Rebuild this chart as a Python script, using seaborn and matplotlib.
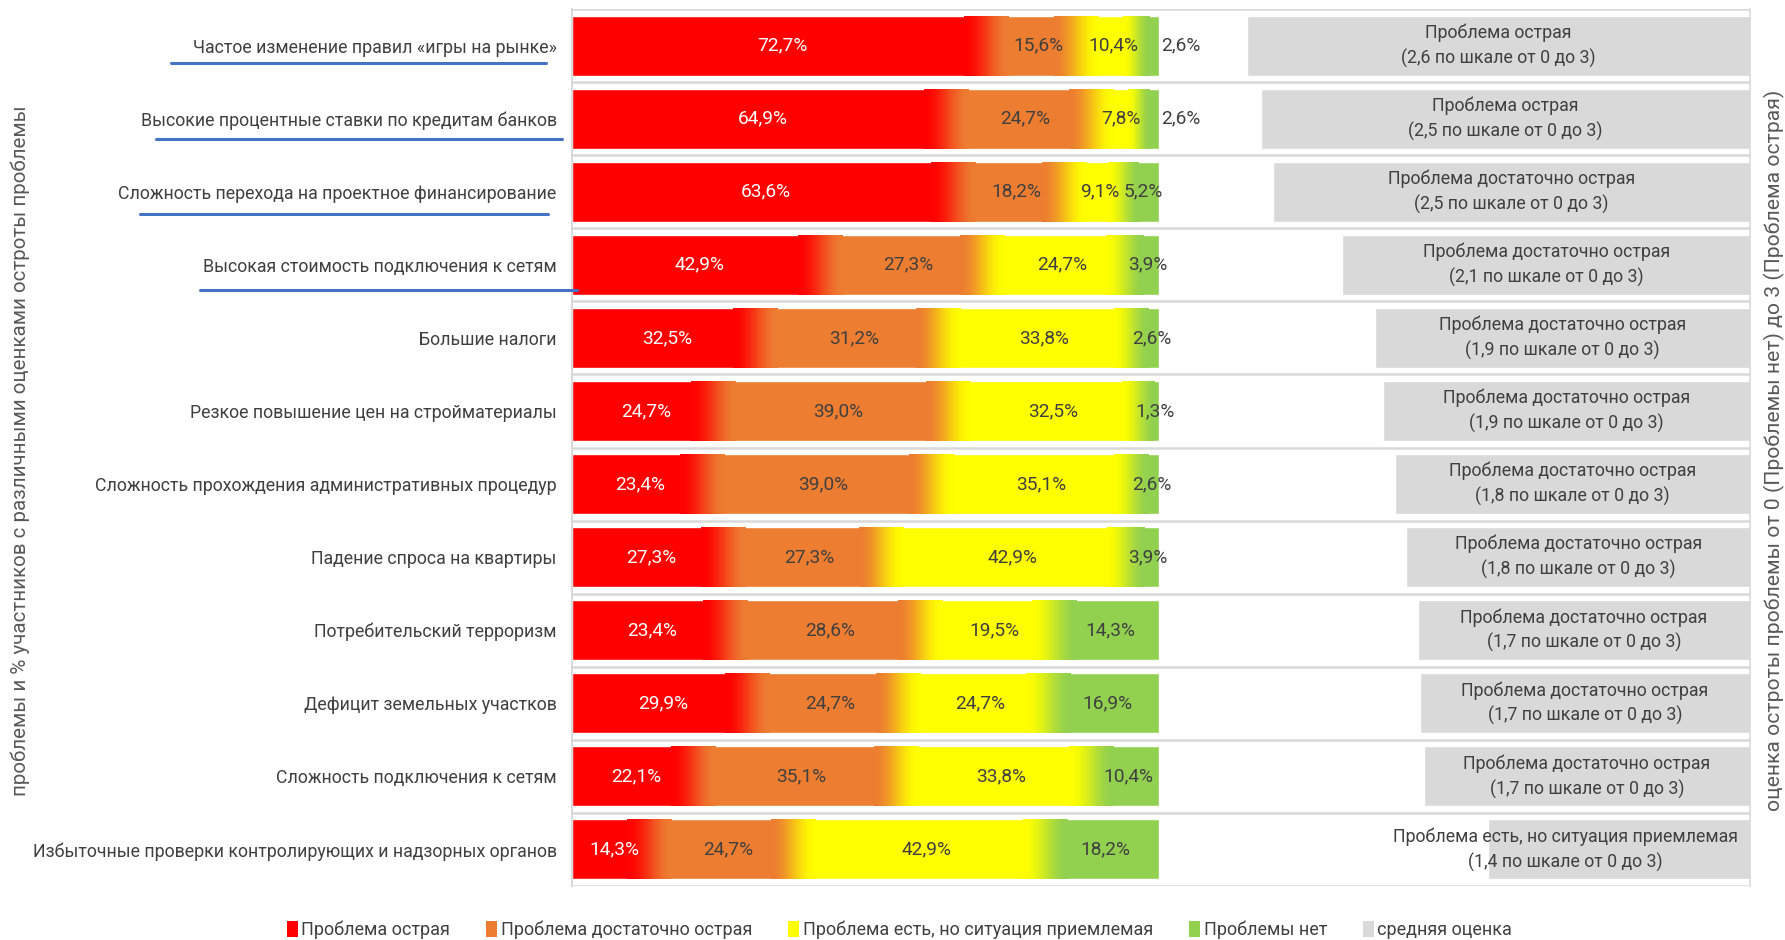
import numpy as np
import pandas as pd
import matplotlib
matplotlib.use("Agg")
import matplotlib.pyplot as plt
import seaborn as sns
from matplotlib.colors import to_rgb
from matplotlib.patches import Patch
from matplotlib.lines import Line2D

# ---------------- data ----------------
categories = [
    "Частое изменение правил «игры на рынке»",
    "Высокие процентные ставки по кредитам банков",
    "Сложность перехода на проектное финансирование",
    "Высокая стоимость подключения к сетям",
    "Большие налоги",
    "Резкое повышение цен на стройматериалы",
    "Сложность прохождения административных процедур",
    "Падение спроса на квартиры",
    "Потребительский терроризм",
    "Дефицит земельных участков",
    "Сложность подключения к сетям",
    "Избыточные проверки контролирующих и надзорных органов",
]
acute = [72.7, 64.9, 63.6, 42.9, 32.5, 24.7, 23.4, 27.3, 23.4, 29.9, 22.1, 14.3]
fairly_acute = [15.6, 24.7, 18.2, 27.3, 31.2, 39.0, 39.0, 27.3, 28.6, 24.7, 35.1, 24.7]
acceptable = [10.4, 7.8, 9.1, 24.7, 33.8, 32.5, 35.1, 42.9, 19.5, 24.7, 33.8, 42.9]
no_problem = [2.6, 2.6, 5.2, 3.9, 2.6, 1.3, 2.6, 3.9, 14.3, 16.9, 10.4, 18.2]

avg_score = [2.59, 2.52, 2.46, 2.10, 1.93, 1.89, 1.83, 1.77, 1.71, 1.70, 1.68, 1.35]
avg_text = ["2,6", "2,5", "2,5", "2,1", "1,9", "1,9", "1,8", "1,8", "1,7", "1,7", "1,7", "1,4"]
avg_verdict = [
    "Проблема острая", "Проблема острая",
    "Проблема достаточно острая", "Проблема достаточно острая",
    "Проблема достаточно острая", "Проблема достаточно острая",
    "Проблема достаточно острая", "Проблема достаточно острая",
    "Проблема достаточно острая", "Проблема достаточно острая",
    "Проблема достаточно острая", "Проблема есть, но ситуация приемлемая",
]
series_names = ["Проблема острая", "Проблема достаточно острая",
                "Проблема есть, но ситуация приемлемая", "Проблемы нет"]
avg_name = "средняя оценка"
y_title = "проблемы и % участников с различными оценками остроты проблемы"
y2_title = "оценка остроты проблемы от 0 (Проблемы нет) до 3 (Проблема острая)"

# ---------------- style ----------------
colors = ["#FF0000", "#ED7D31", "#FFFF00", "#92D050"]
gray = "#D9D9D9"
txt = "#404040"
grid_c = "#D9D9D9"

sns.set_theme(style="white")
FONT = ["Roboto", "Open Sans", "DejaVu Sans"]
plt.rcParams["font.family"] = FONT

W, H = 1785, 940
fig = plt.figure(figsize=(W / 100, H / 100), dpi=100)
ax = fig.add_axes([572 / W, 54 / H, 1178 / W, 877 / H])

df = pd.DataFrame({"cat": categories, "a": acute, "b": fairly_acute,
                   "c": acceptable, "d": no_problem})
vals = df[["a", "b", "c", "d"]].to_numpy()
shares = vals / vals.sum(axis=1, keepdims=True) * 100
cum = np.cumsum(shares, axis=1)
for k in range(3, -1, -1):
    sns.barplot(x=cum[:, k], y=df["cat"], color=colors[k], saturation=1,
                width=0.82, orient="h", ax=ax, zorder=1)

# soft gradient transitions between segments
BH = 0.82
n = len(categories)
for i in range(n):
    for k in range(3):
        b = cum[i, k]
        x0 = b - min(5.0, 0.35 * shares[i, k])
        x1 = b + min(2.5, 0.35 * shares[i, k + 1])
        t = np.linspace(0, 1, 128)
        t = t * t * (3 - 2 * t)
        c0 = np.array(to_rgb(colors[k]))
        c1 = np.array(to_rgb(colors[k + 1]))
        img = ((1 - t)[:, None] * c0 + t[:, None] * c1)[None, :, :]
        ax.imshow(img, extent=[x0, x1, i + BH / 2, i - BH / 2], aspect="auto",
                  interpolation="bilinear", zorder=1.5)

ax.set_xlim(0, 200.7)
ax.set_ylim(n - 0.5, -0.5)

# percent labels
pct_texts = []
for i in range(n):
    starts = cum[i] - shares[i]
    row = []
    for k in range(4):
        xc = starts[k] + shares[i, k] / 2
        row.append(ax.text(xc, i, f"{vals[i, k]:.1f}%".replace(".", ","),
                           ha="center", va="center", fontsize=13.8,
                           color="white" if k == 0 else txt, zorder=5))
    pct_texts.append(row)

ax.set_xticks([])
ax.set_xlabel("")
ax.set_ylabel("")
ax.set_yticks(range(n))
ax.set_yticklabels(categories, fontsize=12.8, color=txt)
ax.tick_params(axis="y", length=0, pad=11)
for s in ["top", "right", "bottom"]:
    ax.spines[s].set_visible(False)
ax.spines["left"].set_color(grid_c)
ax.spines["left"].set_linewidth(1.5)
for yy in np.arange(-0.5, n, 1.0):
    ax.axhline(yy, color=grid_c, lw=1.8, zorder=0.5)

# secondary axis: average score
ax2 = ax.twiny()
sns.barplot(x=avg_score, y=categories, color=gray, saturation=1, width=0.82,
            orient="h", ax=ax2)
ax2.set_xlim(6.07, 0)
ax2.set_ylim(n - 0.5, -0.5)
ax2.set_xticks([])
ax2.set_xlabel("")
ax2.set_ylabel("")
for s in ["top", "left", "bottom"]:
    ax2.spines[s].set_visible(False)
ax2.spines["right"].set_color(grid_c)
ax2.spines["right"].set_linewidth(1.2)

labels2 = []
for i in range(n):
    t2 = ax2.text(avg_score[i] / 2, i,
                  f"{avg_verdict[i]}\n({avg_text[i]} по шкале от 0 до 3)",
                  ha="center", va="center", fontsize=12.8, color=txt,
                  linespacing=1.45, zorder=5)
    labels2.append(t2)

fig.canvas.draw()
r = fig.canvas.get_renderer()
# keep the average-score labels inside the plot area
ax_right = ax2.get_window_extent(r).x1
for t2 in labels2:
    bb = t2.get_window_extent(r)
    if bb.x1 > ax_right - 12:
        shift = bb.x1 - (ax_right - 12)
        x_disp, y_disp = ax2.transData.transform(t2.get_position())
        t2.set_position(ax2.transData.inverted().transform((x_disp - shift, y_disp)))
# small last-segment labels that collide are moved just past the bar end
for row in pct_texts:
    prev = row[2].get_window_extent(r)
    last = row[3].get_window_extent(r)
    if last.x0 < prev.x1 + 2:
        row[3].set_position((100.3, row[3].get_position()[1]))
        row[3].set_ha("left")

# axis titles
fig.text(20 / W, 1 - 451 / H, y_title, rotation=90, ha="center",
         va="center", fontsize=14.8, color="#595959")
fig.text(1774 / W, 1 - 450 / H, y2_title, rotation=90, ha="center",
         va="center", fontsize=15.2, color="#595959")

# hand-drawn underlines (figure-pixel annotations)
underline_px = [(171, 546, 63), (156, 562, 139), (140, 548, 214), (200, 577, 290)]
for xa, xb, yp in underline_px:
    fig.add_artist(Line2D([xa / W, xb / W], [1 - yp / H, 1 - yp / H],
                          transform=fig.transFigure, color="#4472C4", lw=2.2))

# legend
handles = [Patch(facecolor=c, edgecolor="none") for c in colors] + \
          [Patch(facecolor=gray, edgecolor="none")]
fig.legend(handles, series_names + [avg_name], loc="center",
           bbox_to_anchor=(0.504, 10 / H), ncol=5, frameon=False,
           fontsize=13, handlelength=0.6, handleheight=1.0,
           handletextpad=0.2, columnspacing=2.0, labelcolor=txt)

fig.savefig("out.png", dpi=100)
